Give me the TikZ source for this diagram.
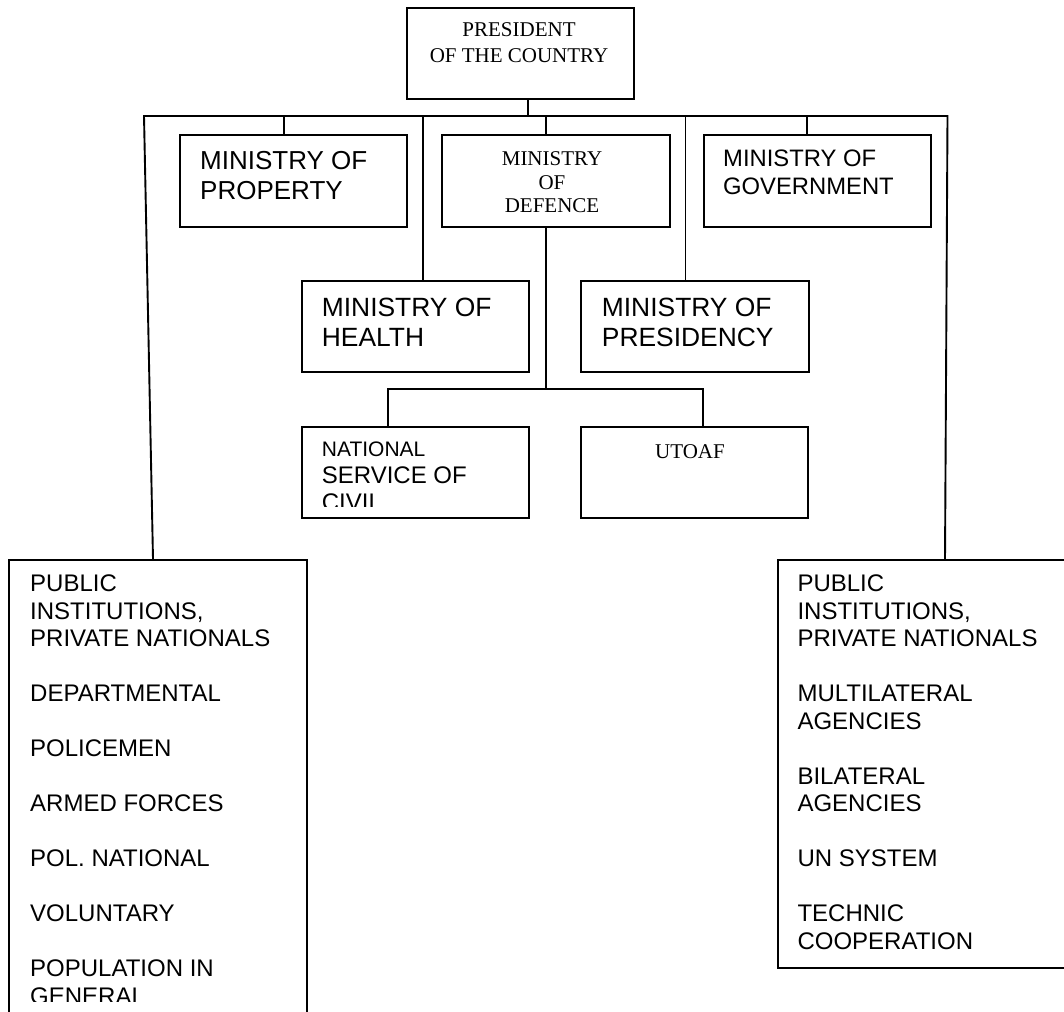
\documentclass[tikz,border=0pt]{standalone}
\usepackage{fontspec}
\newfontfamily\sansA{Liberation Sans}
\newfontfamily\serifT{Liberation Serif}
\tikzset{
  box/.style={draw, line width=1.9pt, inner sep=0pt, anchor=north west},
  conn/.style={line width=1.9pt, line join=miter},
  txt/.style={inner sep=0pt, anchor=base west},
  ctxt/.style={inner sep=0pt, anchor=base},
}
\begin{document}
\begin{tikzpicture}[x=1pt, y=-1pt]
\useasboundingbox (0,0) rectangle (1064,1011);
\clip (0,0) rectangle (1064,1011);
% boxes
\node[box, minimum width=226.7pt, minimum height=91pt] (pres) at (406,6.7) {};
\node[box, minimum width=227pt, minimum height=92pt] (prop) at (179,134) {};
\node[box, minimum width=228pt, minimum height=92pt] (def) at (441,134) {};
\node[box, minimum width=227pt, minimum height=92pt] (gov) at (703,134) {};
\node[box, minimum width=227pt, minimum height=91pt] (health) at (301,280) {};
\node[box, minimum width=228pt, minimum height=91pt] (presid) at (580,280) {};
\node[box, minimum width=227pt, minimum height=91pt] (nsc) at (301,426) {};
\node[box, minimum width=227pt, minimum height=91pt] (utoaf) at (580,426) {};
\node[box, minimum width=297.4pt, minimum height=481pt] (leftbox) at (8.3,559) {};
\node[box, minimum width=313.3pt, minimum height=408pt] (rightbox) at (776.7,559) {};
% texts
\node[ctxt] (tpres) at (519,37) {\serifT\fontsize{21}{25.6}\selectfont\begin{tabular}[t]{@{}c@{}}PRESIDENT\\OF THE COUNTRY\end{tabular}};
\node[ctxt] (tdef) at (552,166) {\serifT\fontsize{21}{23.5}\selectfont\begin{tabular}[t]{@{}c@{}}MINISTRY\\OF\\DEFENCE\end{tabular}};
\node[ctxt] (tutoaf) at (690,458.3) {\serifT\fontsize{21}{25}\selectfont UTOAF};
\node[txt] (tprop) at (200,170) {\sansA\fontsize{26}{29.3}\selectfont\begin{tabular}[t]{@{}l@{}}MINISTRY OF\\PROPERTY\end{tabular}};
\node[txt] (tgov) at (723,166.7) {\sansA\fontsize{23.8}{28.3}\selectfont\begin{tabular}[t]{@{}l@{}}MINISTRY OF\\GOVERNMENT\end{tabular}};
\node[txt] (thealth) at (321.7,316.7) {\sansA\fontsize{26.4}{29.5}\selectfont\begin{tabular}[t]{@{}l@{}}MINISTRY OF\\HEALTH\end{tabular}};
\node[txt] (tpresid) at (601.7,316) {\sansA\fontsize{26.4}{30}\selectfont\begin{tabular}[t]{@{}l@{}}MINISTRY OF\\PRESIDENCY\end{tabular}};
\begin{scope}
\clip (0,0) rectangle (1064,506);
\node[txt] (tnsc) at (321.7,456.7) {\sansA\fontsize{24}{27}\selectfont\begin{tabular}[t]{@{}l@{}}{\fontsize{21}{27}\selectfont NATIONAL}\\SERVICE OF\\CIVIL\end{tabular}};
\end{scope}
\begin{scope}
\clip (0,0) rectangle (1064,1001.5);
\node[txt] (tleft) at (30,591.7) {\sansA\fontsize{24}{27.5}\selectfont\begin{tabular}[t]{@{}l@{}}PUBLIC\\INSTITUTIONS,\\PRIVATE NATIONALS\\ \\DEPARTMENTAL\\ \\POLICEMEN\\ \\ARMED FORCES\\ \\POL. NATIONAL\\ \\VOLUNTARY\\ \\POPULATION IN\\GENERAL\end{tabular}};
\end{scope}
\node[txt] (tright) at (797.3,591.7) {\sansA\fontsize{24}{27.5}\selectfont\begin{tabular}[t]{@{}l@{}}PUBLIC\\INSTITUTIONS,\\PRIVATE NATIONALS\\ \\MULTILATERAL\\AGENCIES\\ \\BILATERAL\\AGENCIES\\ \\UN SYSTEM\\ \\TECHNIC\\COOPERATION\end{tabular}};
% connectors
\coordinate (bL) at (144,116);
\coordinate (bR) at (947.5,116);
\draw[conn] ([xshift=144.7pt]leftbox.north west) -- (bL) -- (bR) -- ([xshift=168.3pt]rightbox.north west);
\coordinate (jPres) at (528,116);
\coordinate (jProp) at (284,116);
\coordinate (jDef) at (545.7,116);
\coordinate (jGov) at (807,116);
\coordinate (jHealth) at (423.3,116);
\coordinate (jPresid) at (685.5,116);
\draw[conn] (jPres) -- (jPres |- pres.south);
\draw[conn] (jProp) -- (jProp |- prop.north);
\draw[conn] (jDef) -- (jDef |- def.north);
\draw[conn] (jGov) -- (jGov |- gov.north);
\draw[conn] (jHealth) -- (jHealth |- health.north);
\draw[conn] (jPresid) -- (jPresid |- presid.north);
\coordinate (jSub) at (545.7,389);
\coordinate (sL) at (388.3,389);
\coordinate (sR) at (702.7,389);
\draw[conn] (jSub |- def.south) -- (jSub);
\draw[conn] (sL |- nsc.north) -- (sL) -- (sR) -- (sR |- utoaf.north);
\end{tikzpicture}
\end{document}
